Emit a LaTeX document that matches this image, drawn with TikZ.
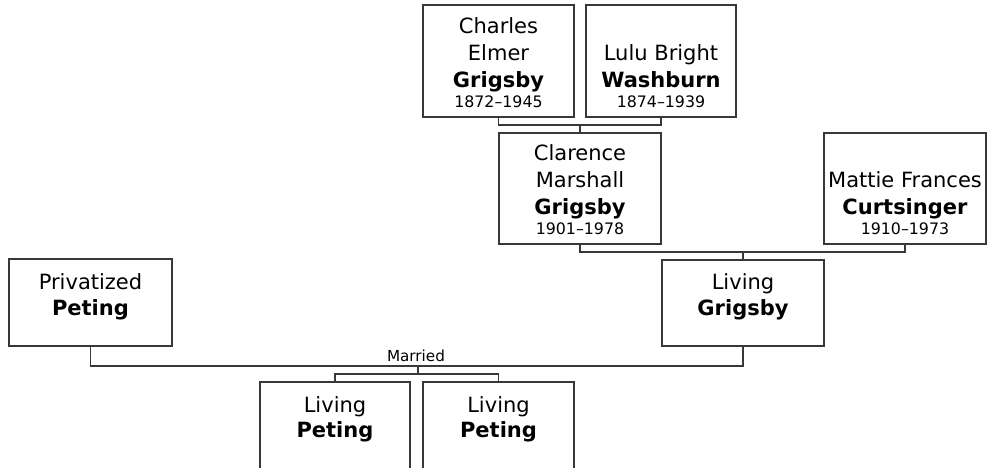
\documentclass[tikz,border=0pt]{standalone}
\usepackage{fontspec}
\setmainfont{DejaVu Sans}
\begin{document}
\begin{tikzpicture}[x=1pt,y=-1pt,
  pbox/.style={draw=black!78, line width=1.3pt, rectangle, inner sep=0pt, outer sep=0pt, fill=white},
  nm/.style={anchor=base, inner sep=0pt, font=\fontsize{21}{25}\selectfont},
  bd/.style={nm, font=\fontsize{21}{25}\selectfont\bfseries},
  dt/.style={anchor=base, inner sep=0pt, font=\fontsize{15.8}{19}\selectfont},
  conn/.style={draw=black!78, line width=1.3pt}]
\useasboundingbox (0,0) rectangle (987,467);
\clip (0,0) rectangle (987,467);
% boxes
\node[pbox, minimum width=151pt, minimum height=112pt] (charles) at (498.5,61) {};
\node[pbox, minimum width=150pt, minimum height=112pt] (lulu) at (661,61) {};
\node[pbox, minimum width=162pt, minimum height=111pt] (clarence) at (580,188.5) {};
\node[pbox, minimum width=162pt, minimum height=111pt] (mattie) at (905,188.5) {};
\node[pbox, minimum width=162pt, minimum height=86pt] (living) at (743,303) {};
\node[pbox, minimum width=163pt, minimum height=87pt] (priv) at (90.5,302.5) {};
\node[pbox, minimum width=150pt, minimum height=87pt] (childa) at (335,425.5) {};
\node[pbox, minimum width=151pt, minimum height=87pt] (childb) at (498.5,425.5) {};
% texts
\node[nm] (charles-1) at ([yshift=84pt]charles.south) {Charles};
\node[nm] (charles-2) at ([yshift=57pt]charles.south) {Elmer};
\node[bd] (charles-3) at ([yshift=30pt]charles.south) {Grigsby};
\node[dt] (charles-4) at ([yshift=10pt]charles.south) {1872–1945};
\node[nm] (lulu-1) at ([yshift=57pt]lulu.south) {Lulu Bright};
\node[bd] (lulu-2) at ([yshift=30pt]lulu.south) {Washburn};
\node[dt] (lulu-3) at ([yshift=10pt]lulu.south) {1874–1939};
\node[nm] (clarence-1) at ([yshift=84pt]clarence.south) {Clarence};
\node[nm] (clarence-2) at ([yshift=57pt]clarence.south) {Marshall};
\node[bd] (clarence-3) at ([yshift=30pt]clarence.south) {Grigsby};
\node[dt] (clarence-4) at ([yshift=10pt]clarence.south) {1901–1978};
\node[nm] (mattie-1) at ([yshift=57pt]mattie.south) {Mattie Frances};
\node[bd] (mattie-2) at ([yshift=30pt]mattie.south) {Curtsinger};
\node[dt] (mattie-3) at ([yshift=10pt]mattie.south) {1910–1973};
\node[nm] (living-1) at ([yshift=57pt]living.south) {Living};
\node[bd] (living-2) at ([yshift=31pt]living.south) {Grigsby};
\node[nm] (priv-1) at ([yshift=57pt]priv.south) {Privatized};
\node[bd] (priv-2) at ([yshift=31pt]priv.south) {Peting};
\node[nm] (childa-1) at ([yshift=-30pt]childa.north) {Living};
\node[bd] (childa-2) at ([yshift=-55pt]childa.north) {Peting};
\node[nm] (childb-1) at ([yshift=-30pt]childb.north) {Living};
\node[bd] (childb-2) at ([yshift=-55pt]childb.north) {Peting};
% junctions
\coordinate (j1) at (580,125);
\coordinate (j2) at (743,252);
\coordinate (j3) at (418,366);
\coordinate (j4) at (418,374);
% connectors
\draw[conn] (charles.south) |- (j1) -| (lulu.south);
\draw[conn] (j1) -- (clarence.north);
\draw[conn] (clarence.south) |- (j2) -| (mattie.south);
\draw[conn] (j2) -- (living.north);
\draw[conn] (priv.south) |- (j3) -| (living.south);
\draw[conn] (j3) -- (j4);
\draw[conn] (childa.north) |- (j4) -| (childb.north);
\node[anchor=base, inner sep=0pt, font=\fontsize{15.2}{18}\selectfont] (married) at (416,361) {Married};
\end{tikzpicture}
\end{document}
